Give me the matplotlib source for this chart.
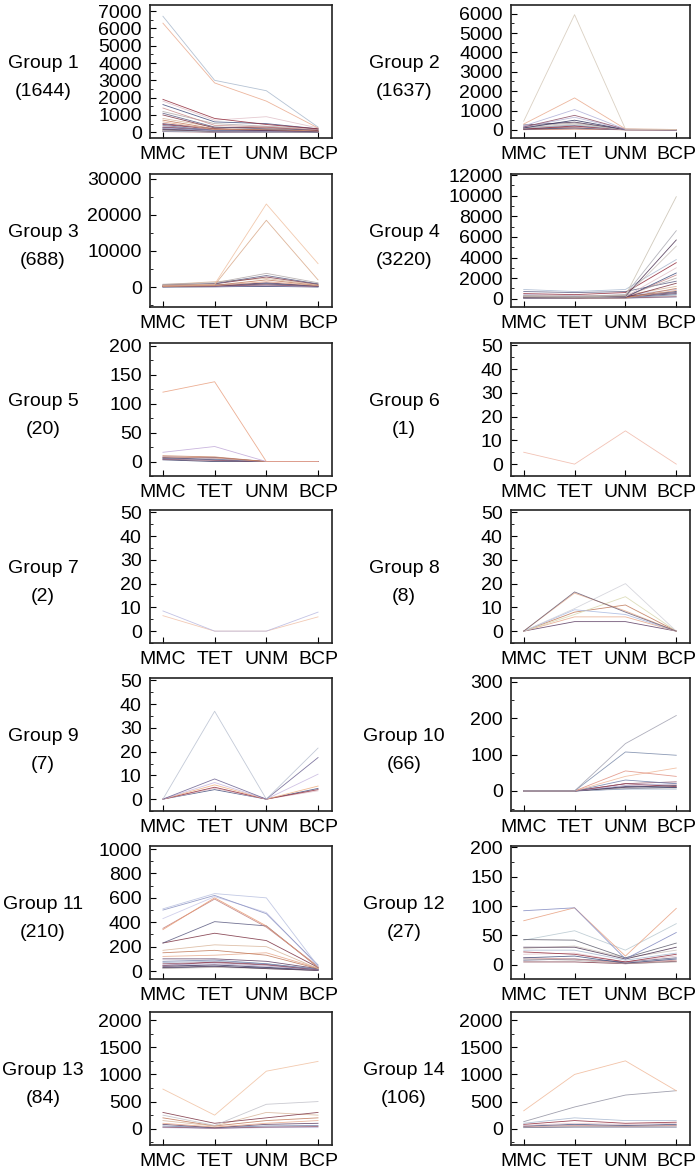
import matplotlib
matplotlib.use("Agg")
import matplotlib.pyplot as plt
from matplotlib.ticker import MultipleLocator, AutoMinorLocator

plt.rcParams['font.family'] = ['Liberation Sans', 'DejaVu Sans']

# --- data ---
conditions = ["MMC", "TET", "UNM", "BCP"]
group_names = ["Group %d" % i for i in range(1, 15)]
group_sizes = [1644, 1637, 688, 3220, 20, 1, 2, 8, 7, 66, 210, 27, 84, 106]

# each row = one gene profile across MMC, TET, UNM, BCP (visible lines only)
g1 = [[6700, 3000, 2400, 300], [6300, 2850, 1800, 250], [1900, 800, 450, 200],
      [1800, 700, 900, 250], [1600, 600, 500, 200], [1400, 400, 300, 150],
      [1200, 500, 350, 200], [1100, 300, 200, 150], [1000, 250, 300, 100],
      [800, 300, 250, 100], [700, 200, 150, 80], [600, 150, 200, 80],
      [500, 200, 100, 60], [400, 100, 150, 50], [300, 150, 100, 40],
      [250, 80, 60, 30], [200, 120, 80, 30], [150, 60, 50, 20],
      [100, 50, 40, 20], [60, 30, 20, 10], [450, 180, 120, 60],
      [350, 120, 90, 40], [280, 100, 70, 30], [180, 70, 50, 20],
      [120, 40, 30, 15], [80, 20, 20, 10], [40, 10, 10, 5]]
g2 = [[450, 5950, 40, 20], [300, 1650, 50, 20], [200, 1050, 30, 10],
      [150, 750, 30, 10], [150, 650, 20, 10], [100, 500, 20, 10],
      [250, 400, 20, 5], [100, 300, 20, 5], [80, 250, 10, 5],
      [50, 200, 10, 5], [150, 150, 10, 5], [30, 100, 5, 5], [20, 60, 5, 0],
      [180, 350, 20, 10], [120, 220, 15, 5], [60, 150, 10, 5],
      [40, 120, 10, 5], [10, 40, 5, 0]]
g3 = [[500, 800, 23000, 6500], [300, 600, 18500, 2000], [800, 1200, 3800, 1200],
      [600, 1000, 3200, 900], [400, 900, 2800, 800], [700, 1500, 2400, 600],
      [300, 500, 2000, 500], [200, 400, 1500, 400], [100, 300, 1200, 300],
      [500, 700, 1000, 300], [200, 300, 600, 200], [100, 200, 400, 100],
      [50, 100, 200, 50], [150, 250, 900, 250], [80, 150, 700, 150],
      [40, 80, 300, 80]]
g4 = [[200, 150, 300, 9900], [300, 200, 400, 6600], [150, 150, 250, 5700],
      [100, 100, 200, 5100], [900, 700, 900, 3800], [500, 400, 600, 3500],
      [200, 150, 200, 3000], [100, 100, 150, 2500], [150, 120, 180, 2300],
      [250, 200, 300, 2000], [700, 600, 700, 1700], [100, 100, 150, 1500],
      [300, 250, 350, 1200], [150, 100, 100, 1000], [100, 80, 100, 800],
      [200, 150, 200, 600], [50, 50, 100, 400], [80, 60, 80, 200],
      [400, 300, 350, 900], [250, 200, 250, 700], [120, 100, 150, 500],
      [60, 50, 80, 300], [30, 30, 50, 150]]
g5 = [[120, 138, 0, 0], [16, 26, 0, 0], [10, 8, 0, 0], [8, 6, 0, 0],
      [6, 7, 0, 0], [5, 4, 0, 0], [4, 2, 0, 0], [9, 5, 0, 0],
      [3, 0, 0, 0], [7, 3, 0, 0]]
g6 = [[5, 0, 14, 0]]
g7 = [[8.5, 0, 0, 8], [6.5, 0, 0, 6]]
g8 = [[0, 16.5, 8, 0], [0, 16, 8.5, 0], [0, 9.5, 20, 0], [0, 9, 7, 0],
      [0, 7, 14.5, 0], [0, 8, 11, 0], [0, 6, 6, 0], [0, 4, 4, 0]]
g9 = [[0, 37, 0, 21.5], [0, 8.5, 0, 17.5], [0, 7, 0, 10.5], [0, 6, 0, 5.5],
      [0, 5, 0, 4], [0, 4.5, 0, 3.5], [0, 4, 0, 4.5]]
g10 = [[0, 0, 130, 207], [0, 0, 107, 98], [0, 0, 55, 40], [0, 0, 40, 63],
       [0, 0, 30, 20], [0, 0, 20, 25], [0, 0, 15, 20], [0, 0, 12, 10],
       [0, 0, 10, 15], [0, 0, 8, 8], [0, 0, 5, 5], [0, 0, 20, 12],
       [0, 0, 14, 18], [0, 0, 6, 10]]
g11 = [[510, 635, 600, 40], [500, 620, 470, 50], [430, 610, 480, 40],
       [340, 600, 370, 30], [350, 590, 360, 40], [230, 405, 370, 30],
       [230, 310, 250, 30], [170, 215, 200, 20], [150, 170, 130, 20],
       [120, 130, 150, 25], [100, 100, 80, 20], [80, 90, 60, 15],
       [60, 70, 50, 10], [50, 60, 40, 10], [40, 50, 30, 10],
       [30, 40, 20, 5], [20, 30, 20, 5], [70, 80, 60, 15],
       [45, 75, 55, 12], [35, 55, 35, 8], [25, 35, 25, 6]]
g12 = [[92, 97, 10, 55], [75, 97, 15, 96], [43, 42, 12, 37], [42, 58, 25, 70],
       [30, 30, 10, 30], [28, 32, 12, 25], [25, 25, 8, 20], [22, 18, 5, 18],
       [18, 20, 5, 15], [12, 15, 3, 10], [12, 10, 3, 8], [10, 8, 2, 5],
       [8, 10, 5, 12], [5, 5, 2, 6]]
g13 = [[730, 250, 1060, 1240], [250, 60, 450, 500], [300, 100, 200, 300],
       [150, 50, 300, 250], [200, 50, 150, 200], [100, 30, 100, 150],
       [80, 20, 80, 100], [50, 20, 50, 60], [30, 10, 30, 40], [20, 5, 20, 20]]
g14 = [[330, 1000, 1250, 700], [130, 400, 620, 700], [100, 200, 150, 150],
       [80, 150, 100, 120], [60, 100, 80, 100], [50, 80, 60, 80],
       [40, 60, 50, 60], [30, 40, 40, 50], [20, 30, 30, 30]]
profiles = [g1, g2, g3, g4, g5, g6, g7, g8, g9, g10, g11, g12, g13, g14]

# y-axis major step and limits for each panel
y_steps = [1000, 1000, 10000, 2000, 50, 10, 10, 10, 10, 100, 200, 50, 500, 500]
y_limits = [(-330, 7350), (-420, 6450), (-5500, 31300), (-800, 12100),
            (-25, 205), (-5, 51), (-5, 51), (-5, 51), (-5, 51),
            (-55, 310), (-65, 1025), (-24, 202), (-300, 2150), (-300, 2150)]

# --- style ---
palette = ['#c9c0b8', '#e7a88a', '#3d4a7a', '#b6b3d6', '#7a3040', '#a8b8d0',
           '#5a3a60', '#c98a8a', '#2e2e5a', '#d8b59a', '#902838', '#6f7fa8',
           '#b0a8a8', '#4a3050', '#c07858', '#e0c0c8', '#8a4b63', '#5a5a80']
top_colors = {
    1: ['#a8b8cc', '#e9a98c'], 2: ['#d4c8b8', '#e9a98c', '#b0b0d8'],
    3: ['#f0c0a0', '#d8a888'], 4: ['#c8c0b0', '#a8a8b0'],
    5: ['#e9a080', '#c0a8d8'], 6: ['#f0b8a8'], 7: ['#b8b8e0', '#f0c0a8'],
    8: ['#6a5a70', '#e8b090', '#d0d0d8', '#a8b8e0', '#d8d8b0'],
    9: ['#b8c0d0', '#6a6090', '#c8b8e0', '#f0b080'],
    10: ['#a0a0b0', '#7888a8', '#e09080', '#f0b898'],
    11: ['#b8c0e0', '#8890c0', '#c8c8e8', '#e89870', '#c08080'],
    12: ['#8088c0', '#e8a080', '#606070', '#b8c8d0'],
    13: ['#f0c0a0', '#c0c0c8'], 14: ['#f0b898', '#9090a0'],
}

W, H = 700, 1175
fig = plt.figure(figsize=(W / 100, H / 100), dpi=100)

col_left = [150, 511]
col_width = [182, 179]
row_top = [5, 174, 343, 510, 678, 846, 1012]
ax_h = 133
label_x = [43, 404]

x = list(range(len(conditions)))
for i, rows in enumerate(profiles):
    r, c = divmod(i, 2)
    ax = fig.add_axes([col_left[c] / W, 1 - (row_top[r] + ax_h) / H,
                       col_width[c] / W, ax_h / H])
    cols = top_colors.get(i + 1, [])
    for k, vals in enumerate(rows):
        color = cols[k] if k < len(cols) else palette[(k * 5 + i) % len(palette)]
        ax.plot(x, vals, color=color, lw=0.6, alpha=0.85, zorder=10 - k * 0.01)
    ax.set_xlim(-0.25, 3.27)
    ax.set_ylim(*y_limits[i])
    ax.set_xticks(x)
    ax.set_xticklabels(conditions)
    ax.yaxis.set_major_locator(MultipleLocator(y_steps[i]))
    ax.yaxis.set_minor_locator(AutoMinorLocator(2))
    ax.tick_params(axis='both', which='major', direction='in', length=4,
                   width=0.8, labelsize=14)
    ax.tick_params(axis='y', which='minor', direction='in', length=2, width=0.6)
    ax.tick_params(axis='y', pad=6)
    ax.tick_params(axis='x', pad=6)
    for s in ax.spines.values():
        s.set_linewidth(1.2)
        s.set_color('#222222')

    cy = row_top[r] + ax_h / 2
    fig.text(label_x[c] / W, 1 - (cy - 8) / H, group_names[i], ha='center',
             va='center', fontsize=14)
    fig.text(label_x[c] / W, 1 - (cy + 20) / H, "(%d)" % group_sizes[i],
             ha='center', va='center', fontsize=14)

fig.savefig("out.png", dpi=100)
